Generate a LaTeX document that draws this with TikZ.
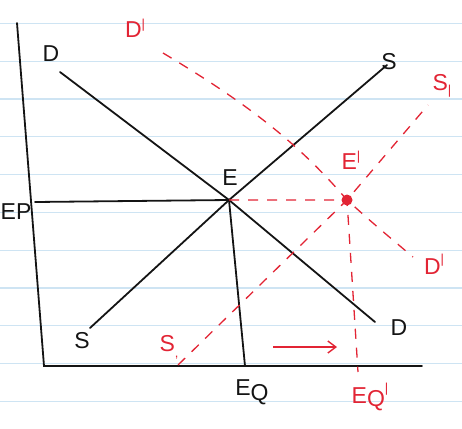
\documentclass[tikz,border=0pt]{standalone}
\usepackage{fontspec}
\setmainfont{Liberation Sans}
\usetikzlibrary{arrows.meta}
\definecolor{inkBlack}{RGB}{20, 20, 20}
\definecolor{inkRed}{RGB}{226, 36, 52}
\definecolor{ruleBlue}{RGB}{206, 228, 243}

\tikzset{
  curve/.style={inkBlack, line width=1.8pt, line cap=round},
  shifted/.style={inkRed, line width=1.3pt, dash pattern=on 10pt off 9pt},
  lbl/.style={inkBlack, font=\fontsize{23}{23}\selectfont, inner sep=0pt},
  redlbl/.style={lbl, inkRed},
}
\newcommand{\tick}[1]{\raisebox{#1}{\fontsize{13}{13}\selectfont\textbar}}

\begin{document}
\begin{tikzpicture}[x=1pt, y=-1pt]
      \useasboundingbox (0,0) rectangle (462,428);
      % ruled paper
      \foreach \k in {0,...,10}
        \draw[ruleBlue, line width=1.2pt] (0,23.3+37.8*\k) -- (462,23.3+37.8*\k);

      % axes
      \coordinate (top) at (17,23);
      \coordinate (origin) at (44,366);
      \coordinate (right) at (422,366);
      \draw[curve] (top) -- (origin) -- (right);

      % equilibrium
      \coordinate (E) at (229,200);
      \coordinate (Paxis) at (35,202);
      \coordinate (Qaxis) at (245,366);
      \draw[curve] (Paxis) -- (E) -- (Qaxis);

      % demand and supply
      \coordinate (Dtop) at (60,72);
      \coordinate (Dbot) at (375,322);
      \coordinate (Stop) at (387,65);
      \coordinate (Sbot) at (90,328);
      \draw[curve] (Dtop) -- (E) -- (Dbot);
      \draw[curve] (Sbot) -- (E) -- (Stop);

      \node[lbl] (dtl) at (51,54) {D};
      \node[lbl] (stl) at (389,62) {S};
      \node[lbl] (sbl) at (82,341) {S};
      \node[lbl] (dbl) at (399,328) {D};
      \node[lbl] (el) at (230,178) {E};
      \node[lbl, anchor=west] (ep) at (0.5,212) {EP};
      \node[lbl] (eq) at (252,392) {E\raisebox{-5pt}{Q}};

      % new equilibrium
      \coordinate (Enew) at (347,200);
      \coordinate (Qnew) at (358,372);
      \coordinate (D1top) at (163,53);
      \coordinate (D1bot) at (413,257);
      \coordinate (S1top) at (428,105);
      \coordinate (S1bot) at (178,365);
      \draw[shifted] (E) -- (Enew) -- (Qnew);
      \draw[shifted] (D1top) .. controls (250,105) and (300,145) .. (Enew)
                     .. controls (375,225) .. (D1bot);
      \draw[shifted] (S1bot) -- (Enew) -- (S1top);
      \fill[inkRed] (Enew) circle (5.5pt);

      \node[redlbl] (d1t) at (135,28) {D\tick{9pt}};
      \node[redlbl] (s1t) at (442,86) {S\tick{-4pt}};
      \node[redlbl] (e1l) at (351,160) {E\tick{9pt}};
      \node[redlbl] (d1b) at (434,264) {D\tick{11pt}};
      \node[redlbl] (s1b) at (169,347) {S\raisebox{-6pt}{\fontsize{13}{13}\selectfont ,}};
      \node[redlbl] (eq1) at (370,397) {E\raisebox{-3pt}{Q}\tick{11pt}};

      \coordinate (arrA) at (273,347);
      \coordinate (arrB) at (337,347);
      \draw[inkRed, line width=1.4pt, -{Straight Barb[length=8pt, width=12pt]}] (arrA) -- (arrB);
\end{tikzpicture}
\end{document}
